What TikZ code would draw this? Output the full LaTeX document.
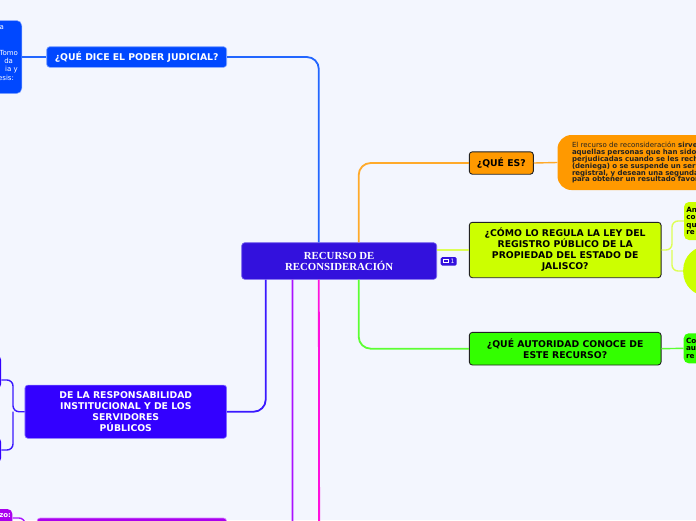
\documentclass[tikz,border=0pt]{standalone}
\usepackage{fontspec}
\setmainfont{DejaVu Sans}
\newfontfamily\titlefont{Liberation Serif}
\usetikzlibrary{calc}
\definecolor{bg}{HTML}{F3F6FE}
\definecolor{cmain}{HTML}{3311DD}
\definecolor{cmainB}{HTML}{7A66EE}
\definecolor{cjud}{HTML}{0048FF}
\definecolor{cjudB}{HTML}{88AAFF}
\definecolor{cjudL}{HTML}{2266FF}
\definecolor{corange}{HTML}{FF9900}
\definecolor{corangeL}{HTML}{FFAA2A}
\definecolor{cyel}{HTML}{CCFF00}
\definecolor{cyelL}{HTML}{DDFF55}
\definecolor{cgreen}{HTML}{33FF00}
\definecolor{cgreenL}{HTML}{5CFF33}
\definecolor{cresp}{HTML}{3300FF}
\definecolor{crespB}{HTML}{8877FF}
\definecolor{crespL}{HTML}{3A18FF}
\definecolor{cpurp}{HTML}{AA00EE}
\definecolor{cpurpL}{HTML}{AA11FF}
\definecolor{cmag}{HTML}{FF11DD}
\definecolor{cdark}{HTML}{222222}
\begin{document}
\begin{tikzpicture}[x=1pt,y=-1pt,
  box/.style={rectangle,rounded corners=3pt,inner sep=0pt,align=center,
    font=\fontsize{9.3}{11}\selectfont\bfseries},
  darkbox/.style={box,draw=cdark,line width=0.9pt,text=black},
  leafbox/.style={rectangle,rounded corners=5pt,inner sep=0pt},
  leaftext/.style={font=\fontsize{7.2}{7.5}\selectfont\bfseries,align=left,text=black},
  link/.style={line width=1.8pt,rounded corners=12pt},
  thinlink/.style={line width=1.4pt,rounded corners=6pt},
  ]
\fill[bg] (0,0) rectangle (696,520);
\useasboundingbox (0,0) rectangle (696,520);
\clip (0,0) rectangle (696,520);

% ---------- nodes ----------
\node[box,fill=cmain,draw=cmainB,line width=0.6pt,minimum width=195pt,minimum height=36.6pt,
  text=white,font=\titlefont\fontsize{10.8}{11}\selectfont\bfseries] (central) at (339.2,261)
  {RECURSO DE\\RECONSIDERACIÓN};

\node[fill=cmain,rounded corners=1.5pt,minimum width=16pt,minimum height=8.5pt,inner sep=0pt] (cmt) at (448.7,261.3) {};
\draw[white,line width=0.7pt] (443.6,259.4) rectangle (448.4,262.8);
\node[text=white,font=\fontsize{6}{6}\selectfont,inner sep=0pt] (cmtn) at (452.6,261.4) {1};

\node[box,fill=cjud,draw=cjudB,line width=0.6pt,minimum width=180pt,minimum height=20.6pt,text=white] (judicial) at (136.7,57) {¿QUÉ DICE EL PODER JUDICIAL?};
\node[leafbox,fill=cjud,draw=cjudB,line width=0.5pt,anchor=east,minimum width=80pt,minimum height=73pt] (leafJ) at (22,57) {};
\begin{scope}[every node/.style={anchor=east,inner sep=0pt,text=white,font=\fontsize{7}{7}\selectfont}]
\node (jl1) at (4.2,28) {a};
\node (jl2) at (18.2,53) {Tomo};
\node (jl3) at (13.2,61.3) {da};
\node (jl4) at (18,69.6) {ia y};
\node (jl5) at (14.2,78) {esis:};
\end{scope}

\node[darkbox,fill=corange,minimum width=64pt,minimum height=22.4pt] (quees) at (501.3,163) {¿QUÉ ES?};
\node[leafbox,rounded corners=14pt,fill=corange,anchor=west,minimum height=55pt,text width=190pt,inner xsep=14.5pt,
  font=\fontsize{7}{6.95}\selectfont\bfseries,align=left,text=cdark] (leafQ) at (557.3,162.5)
  {\mdseries El recurso de reconsideración \bfseries sirve\\aquellas personas que han sido\\perjudicadas cuando se les rech\\(deniega) o se suspende un ser\\registral, y desean una segunda\\para obtener un resultado favor};

\node[darkbox,fill=cyel,minimum width=191.7pt,minimum height=55.4pt] (comoreg) at (565.2,250)
  {¿CÓMO LO REGULA LA LEY DEL\\REGISTRO PÚBLICO DE LA\\PROPIEDAD DEL ESTADO DE\\JALISCO?};
\node[leafbox,leaftext,fill=cyel,anchor=west,minimum height=38pt,text width=50pt,inner xsep=2.4pt] (leafA1) at (683.8,221) {An\\co\\qu\\re};
\node[leafbox,rounded corners=24pt,fill=cyel,anchor=west,minimum height=50pt,minimum width=80pt] (leafA2) at (683,271) {};

\node[darkbox,fill=cgreen,minimum width=191.7pt,minimum height=32.6pt] (autoridad) at (565.2,348.7)
  {¿QUÉ AUTORIDAD CONOCE DE\\ESTE RECURSO?};
\node[leafbox,leaftext,fill=cgreen,anchor=west,minimum height=30pt,text width=50pt,inner xsep=2.4pt] (leafC) at (683.5,348.3) {Co\\au\\re};

\node[box,fill=cresp,draw=crespB,line width=0.6pt,minimum width=201.7pt,minimum height=53.3pt,text=white] (resp) at (125.8,411.7)
  {DE LA RESPONSABILIDAD\\INSTITUCIONAL Y DE LOS\\SERVIDORES\\PÚBLICOS};
\node[leafbox,fill=cresp,anchor=east,minimum width=60pt,minimum height=34pt] (leafR1) at (1.4,372) {};
\node[leafbox,fill=cresp,anchor=east,minimum width=60pt,minimum height=26pt] (leafR2) at (1.4,450) {};

\node[box,fill=cpurp,draw=cpurpL!50!white,line width=0.6pt,minimum width=189.5pt,minimum height=43pt] (purp) at (131.8,539.5) {};
\node[leafbox,fill=cpurp,anchor=east,minimum width=60pt,minimum height=18pt] (leafP) at (12.6,518) {};
\node[anchor=east,inner sep=0pt,text=white,font=\fontsize{7}{7}\selectfont\bfseries] (leafPt) at (11.2,515.2) {zo:};

\coordinate (magEnd) at (319.2,560);
\coordinate (ybr) at (672,250);
\coordinate (rbr) at (13,411.7);
\coordinate (pbr) at (25,539.5);

% ---------- connectors ----------
\draw[link,draw=cjudL] ($(central.north west)+(77.4,0)$) |- (judicial.east);
\draw[thinlink,draw=cjudL] (judicial.west) -- (leafJ.east);

\draw[link,draw=corangeL] ($(central.north west)+(117.3,0)$) |- (quees.west);
\draw[thinlink,draw=corangeL] (quees.east) -- (leafQ.west);

\draw[link,draw=cyelL] (comoreg.west -| central.east) -- (comoreg.west);
\draw[thinlink,draw=cyelL] (comoreg.east) -- (ybr) |- (leafA1.west);
\draw[thinlink,draw=cyelL] (ybr) |- (leafA2.west);

\draw[link,draw=cgreenL] ($(central.south west)+(117.3,0)$) |- (autoridad.west);
\draw[thinlink,draw=cgreenL] (autoridad.east) -- (leafC.west);

\draw[link,draw=crespL] ($(central.south west)+(24.3,0)$) |- (resp.east);
\draw[thinlink,draw=crespL] (resp.west) -- (rbr) |- ([yshift=-8pt]leafR1.east);
\draw[thinlink,draw=crespL] (rbr) |- (leafR2.east);

\draw[link,draw=cpurpL] ($(central.south west)+(51,0)$) |- (purp.east);
\draw[thinlink,draw=cpurpL] (purp.west) -- (pbr) |- (leafP.east);

\draw[link,draw=cmag] ($(central.south west)+(77.4,0)$) -- (magEnd);
\end{tikzpicture}
\end{document}
